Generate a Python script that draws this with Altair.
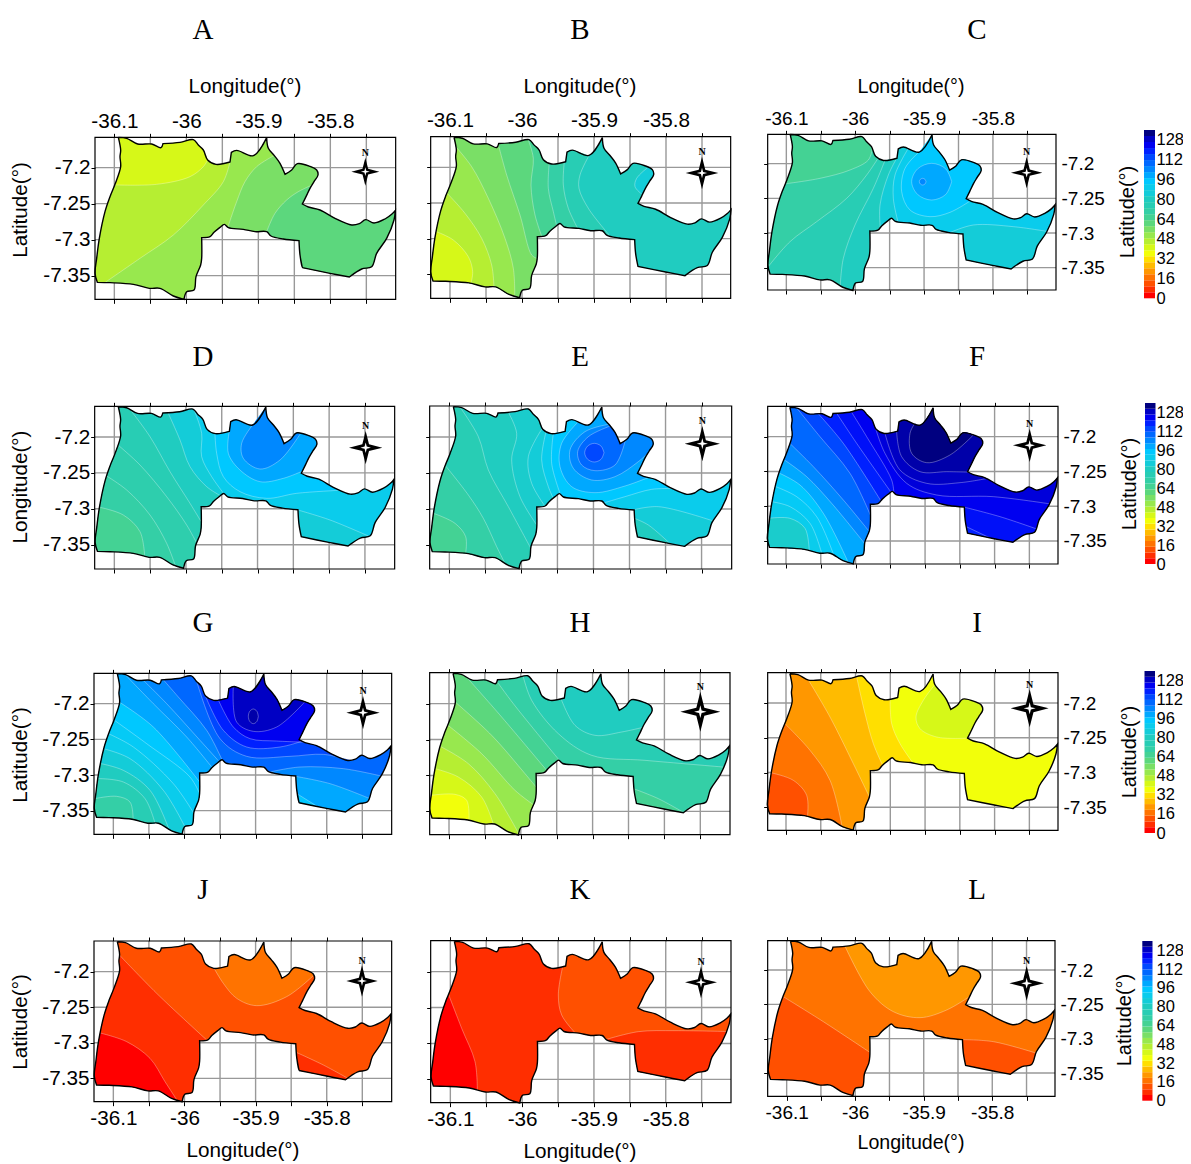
import altair as alt
import pandas as pd

SANS = "Liberation Sans"
SERIF = "Liberation Serif"

PALETTE = ["#FF0000","#FF2E00","#FF5000","#FF7300","#FF9700","#FFBB00","#FFDF00","#F2FF0A",
           "#D6F818","#B6EE32","#98E84E","#7ADF66","#5CD77D","#44D294","#34CFA6","#28CDB4",
           "#20CCC0","#14CCD8","#0ACCEC","#00C8FF","#00A8FF","#0088FF","#0068FF","#0048FF",
           "#0020FF","#0000F0","#0000C4","#000080"]
BAR_TOP = 136
BAR_LABELS = [0,16,32,48,64,80,96,112,128]
LON_TICKS = [-36.1,-36.05,-36.0,-35.95,-35.9,-35.85,-35.8,-35.75]
LAT_TICKS = [-7.2,-7.25,-7.3,-7.35]

def colour(v):
    lo = int(v); hi = min(lo+1, len(PALETTE)-1); t = v-lo
    a = [int(PALETTE[lo][k:k+2],16) for k in (1,3,5)]
    b = [int(PALETTE[hi][k:k+2],16) for k in (1,3,5)]
    return "#%02X%02X%02X" % tuple(round(p+(q-p)*t) for p,q in zip(a,b))

# boundary, read clockwise, in units of 1/2160 degree from the reference grid of panel A
# (sharp corners are listed twice so the drawn curve stays tight there)
OUTLINE = [(85,37),(85,37),(110,40),(143,57),(185,57),(213,68),(219,56),(219,56),(270,52),(310,44),(325,60),(340,75),
 (353,105),(378,118),(420,111),(420,111),(424,82),(424,82),(440,76),(490,92),(530,38),(530,38),(535,70),(553,92),(570,115),
 (585,148),(585,148),(605,135),(622,116),(660,124),(680,135),(684,150),(672,170),(660,190),(648,215),(637,237),(637,237),
 (655,246),(690,255),(735,280),(785,300),(808,296),(827,284),(852,294),(885,282),(905,268),(916,256),(916,256),
 (912,285),(890,340),(860,385),(845,425),(815,432),(778,456),(778,456),(720,445),(637,428),(637,428),(630,390),(627,347),(627,347),
 (580,342),(543,333),(530,320),(495,320),(460,313),(415,308),(403,298),(390,307),(372,322),(360,335),
 (335,338),(335,338),(335,400),(332,420),(318,455),(312,495),(290,500),(282,523),(282,523),(250,513),(210,490),(178,490),
 (130,478),(60,473),(22,472),(22,472),(15,445),(20,400),(28,340),(45,260),(60,215),(75,178),(92,125),(90,95),(92,75)]

def ell(cx,cy,rx,ry):
    return [(cx+rx,cy),(cx+.7*rx,cy+.7*ry),(cx,cy+ry),(cx-.7*rx,cy+.7*ry),(cx-rx,cy),
            (cx-.7*rx,cy-.7*ry),(cx,cy-ry),(cx+.7*rx,cy-.7*ry),(cx+rx,cy)]

PANELS = [
 dict(name="A",crop=(90,125),grid=(73,128,108,108),frame=(15,917,37,523),base=9,compass=(826,140,42),
  bands=[(8,[(353,105),(340,125),(300,155),(200,178),(75,180)]),
         (10,[(45,472),(150,400),(250,330),(340,240),(400,170),(422,111)]),
         (11,[(415,305),(440,230),(465,170),(500,125),(552,92)]),
         (12,[(530,320),(555,265),(590,225),(625,200),(665,180)])]),
 dict(name="B",crop=(425,125),grid=(75,127,108,107),frame=(17,917,35,520),base=16,compass=(831,144,49),
  bands=[(15,[(492,90),(465,150),(462,190),(490,250),(555,330)]),
         (14,[(418,112),(415,180),(430,250),(458,310)]),
         (13,[(372,115),(370,190),(385,260),(392,298)]),
         (12,[(310,45),(325,100),(318,180),(330,270),(350,332)]),
         (11,[(220,58),(245,150),(285,270),(320,390),(333,400)]),
         (10,[(92,65),(140,125),(190,220),(240,340),(265,430),(272,505)]),
         (9,[(68,205),(120,265),(170,340),(200,420),(207,487)]),
         (8,[(35,320),(85,345),(130,395),(143,440),(138,475)]),
         (17,[(650,208),(630,185),(635,160),(670,125)])]),
 dict(name="C",crop=(760,125),grid=(79,116,103.3,104),frame=(23,888,28,495),base=15,compass=(800,143,47),
  bands=[(14,[(350,108),(320,150),(260,220),(170,290),(90,350),(25,425)]),
         (13,[(328,75),(325,105),(270,135),(180,160),(80,178)]),
         (16,[(242,480),(250,400),(285,300),(340,190),(375,105)]),
         (17,[(358,305),(360,240),(385,150),(410,100)]),
         (18,[(415,280),(400,220),(405,150),(440,85)]),
         (19,[(630,230),(570,262),(510,275),(450,255),(425,200),(435,130),(490,85)]),
         (17,[(570,322),(640,300),(760,305),(858,318)]),
         (20,ell(515,170,60,55)),(21,ell(488,170,10,10))]),
 dict(name="D",crop=(90,400),grid=(73,111,107.4,107.7),frame=(14,914,19,507),base=18,compass=(827,143,50),
  bands=[(17,[(310,35),(335,100),(335,170),(365,230),(395,270)]),
         (16,[(235,50),(270,120),(300,200),(350,260),(390,285)]),
         (15,[(120,30),(180,110),(240,215),(300,310),(330,365)]),
         (14.5,[(85,135),(150,195),(230,290),(290,375),(310,425)]),
         (14,[(50,228),(110,270),(180,345),(230,430),(255,500)]),
         (13,[(30,322),(100,345),(150,395),(165,465)]),
         (19,[(750,275),(620,280),(530,295),(450,275),(400,230),(380,160),(375,100)]),
         (20,[(640,215),(580,235),(510,245),(450,210),(415,160),(418,95)]),
         (21,[(630,105),(570,180),(510,207),(460,175),(455,130),(490,72)]),
         (17,[(625,330),(720,360),(835,405)])]),
 dict(name="E",crop=(425,400),grid=(73,111,108.1,108),frame=(14,920,18,507),base=18,compass=(832,131,53),
  bands=[(17,[(360,100),(350,180),(370,260),(385,295)]),
         (16.5,[(340,90),(310,170),(320,250),(360,320)]),
         (16,[(250,40),(275,100),(260,180),(285,290),(330,375)]),
         (15,[(105,30),(160,110),(190,210),(250,320),(320,445)]),
         (14,[(70,200),(130,285),(175,355),(215,440),(240,490)]),
         (13,[(25,340),(90,370),(122,410),(122,460)]),
         (19,[(405,285),(380,190),(385,100)]),
         (18,[(540,305),(600,290),(680,268),(745,260)]),
         (17,[(625,322),(700,320),(860,360)]),
         (16,[(635,355),(670,375),(735,430)]),
         (20,[(670,232),(600,258),(510,278),(440,260),(405,200),(410,130),(460,65)]),
         (21,[(670,160),(640,185),(570,230),(500,240),(445,205),(435,150),(480,95),(555,70)]),
         (22,[(610,135),(570,195),(510,212),(470,195),(458,155),(490,110),(560,75)]),
         (23,ell(508,158,29,28))]),
 dict(name="F",crop=(760,400),grid=(78,110,104.3,104.3),frame=(23,894,19,492),base=25,compass=(809,136,50),
  bands=[(24.5,[(275,40),(320,110),(395,240),(400,280)]),
         (24,[(230,40),(290,130),(385,265)]),
         (23,[(175,40),(250,130),(360,300)]),
         (22,[(110,30),(180,110),(270,220),(330,345)]),
         (21,[(90,130),(160,200),(250,300),(330,395)]),
         (20,[(75,180),(140,230),(215,310),(310,430)]),
         (19,[(60,220),(120,255),(190,340),(265,485)]),
         (18.5,[(48,260),(110,290),(170,350),(225,460)]),
         (18,[(35,305),(90,320),(150,370),(185,460)]),
         (16.5,[(32,355),(90,355),(135,385),(148,450)]),
         (25.5,[(860,308),(700,290),(530,285),(440,250),(375,160),(340,85)]),
         (26,[(680,235),(600,248),(500,250),(420,210),(375,100)]),
         (26.4,[(625,215),(560,215),(480,215),(425,170),(410,95)]),
         (27,[(640,105),(570,165),(500,188),(455,160),(450,100),(465,68)]),
         (24.5,[(615,320),(720,350),(825,385)]),
         (24,[(630,378),(690,408)])]),
 dict(name="G",crop=(90,667),grid=(70,110,106.7,107),frame=(12,905,19,502),base=22,compass=(819,137,50),
  bands=[(21,[(220,40),(265,90),(350,190),(400,270)]),
         (20.5,[(160,40),(230,110),(330,220),(385,280)]),
         (20,[(105,25),(190,110),(290,210),(365,300)]),
         (19,[(100,105),(190,180),(330,345)]),
         (18.5,[(75,160),(170,230),(300,330),(330,380)]),
         (18,[(55,200),(130,240),(250,350),(320,440)]),
         (17,[(40,245),(120,275),(220,370),(280,475)]),
         (16,[(33,290),(100,310),(180,370),(235,490)]),
         (15,[(25,335),(100,345),(165,395),(195,465)]),
         (14,[(18,395),(80,388),(120,405),(130,455)]),
         (23,[(780,280),(700,262),(600,268),(470,268),(390,215),(320,45)]),
         (24,[(630,235),(570,240),(470,240),(400,190),(345,90)]),
         (25,[(645,220),(560,222),(480,215),(430,180),(385,100)]),
         (26,[(640,125),(560,180),(490,193),(440,165),(430,60)]),
         (26.4,ell(490,148,15,22)),
         (21,[(540,318),(630,300),(760,305),(870,325)]),
         (20,[(620,328),(720,350),(835,393)]),
         (19,[(628,380),(680,430)])]),
 dict(name="H",crop=(425,667),grid=(72,110,107.7,107.7),frame=(14,915,17,503),base=14,compass=(826,134,60),
  bands=[(13,[(220,45),(265,110),(410,280)]),
         (12,[(125,30),(230,150),(365,310)]),
         (11,[(95,105),(200,205),(300,320),(333,360)]),
         (10,[(70,175),(170,260),(270,370),(330,415)]),
         (9,[(52,240),(130,290),(210,380),(280,500)]),
         (8,[(30,305),(100,330),(170,390),(205,465)]),
         (7,[(20,385),(90,382),(125,400),(132,460)]),
         (15,[(890,298),(660,280),(500,265),(400,200),(320,100),(295,30)]),
         (16,[(650,180),(590,195),(510,205),(450,175),(408,95)]),
         (13,[(635,365),(700,395),(775,435)])]),
 dict(name="I",crop=(760,667),grid=(78,108,104.3,104.3),frame=(23,894,17,490),base=7,compass=(809,124,57),
  bands=[(6,[(390,92),(395,170),(420,230),(460,285)]),
         (5,[(290,30),(315,140),(340,230),(368,295)]),
         (4,[(145,40),(210,150),(280,290),(330,390)]),
         (3,[(75,170),(150,250),(210,340),(245,480)]),
         (2,[(37,318),(100,340),(140,385),(142,450)]),
         (8,[(620,220),(530,210),(480,185),(468,150),(490,100),(522,55)])]),
 dict(name="J",crop=(90,935),grid=(70,110,106.7,106.7),frame=(12,905,18,500),base=2,compass=(816,138,47),
  bands=[(3,[(668,122),(590,185),(500,212),(440,190),(400,145),(372,98)]),
         (1,[(85,60),(200,175),(350,315)]),
         (0,[(35,295),(110,320),(180,370),(225,440),(260,498)]),
         (1,[(622,352),(700,390),(770,425)])]),
 dict(name="K",crop=(425,935),grid=(76,110,107.7,107.7),frame=(17,918,17,503),base=1,compass=(828,142,48),
  bands=[(2,[(450,293),(410,240),(400,180),(413,95)]),
         (1,[(545,312),(640,290),(750,287),(905,290)]),
         (0,[(70,178),(110,280),(150,380),(157,465)])]),
 dict(name="L",crop=(760,935),grid=(80,105,102.8,103),frame=(23,885,17,484),base=3,compass=(800,145,52),
  bands=[(4,[(630,185),(560,225),(480,248),(400,230),(330,170),(255,35)]),
         (2,[(70,185),(190,260),(325,352)]),
         (2,[(607,310),(700,320),(822,352)])]),
]

COL_X = [94,429,767,1087]
ROW_Y = [134,406,672,940]
VIEW_W = [315,318,300,60]
VIEW_H = [252,246,248,170]
SPACING = 20
CURVE = "catmull-rom"
TICK_FONT = [20.7,20.7,19]
CAP_FONT = [20.7,20.7,19.6]
BAR_LABEL_X = 1156

LETTER_POS = {"A":(203,30),"B":(580,30),"C":(977,30),"D":(203,357),"E":(580,357),"F":(977,357),
              "G":(203,623),"H":(580,623),"I":(977,623),"J":(203,890),"K":(580,890),"L":(977,890)}
CAPTIONS = {
 "A":[("Longitude(°)",245,87,0),("Latitude(°)",21,210,270)],
 "B":[("Longitude(°)",580,87,0)],
 "C":[("Longitude(°)",911,87,0)],
 "D":[("Longitude(°)",21,487,270)],
 "G":[("Latitude(°)",21,755,270)],
 "J":[("Latitude(°)",21,1022,270),("Longitude(°)",243,1151,0)],
 "K":[("Longitude(°)",580,1152,0)],
 "L":[("Longitude(°)",911,1143,0)],
}
BARS = [(1144,1155,130,298.3,1128,212),(1145,1155.5,403,564,1130,484),
        (1144.5,1155,671,833,1130,752),(1142.3,1152.5,941,1100.7,1125,1020)]

A = PANELS[0]
def to_ll(p, pts):
    gx,gy,sx,sy = p["grid"]
    return [(-36.1+(x-gx)/sx*0.05, -7.2-(y-gy)/sy*0.05) for x,y in pts]
OL = to_ll(A, OUTLINE)

def nearest(pt):
    best = None
    for i in range(len(OL)):
        a = OL[i]; b = OL[(i+1)%len(OL)]
        dx,dy = b[0]-a[0], b[1]-a[1]
        n = dx*dx+dy*dy
        if n == 0:
            continue
        t = max(0,min(1,((pt[0]-a[0])*dx+(pt[1]-a[1])*dy)/n))
        q = (a[0]+t*dx, a[1]+t*dy)
        d = (q[0]-pt[0])**2+(q[1]-pt[1])**2
        if best is None or d < best[0]:
            best = (d,i,t,q)
    return best

def region(line):
    if line[0] == line[-1]:
        return line, line
    _,si,st,P = nearest(line[0])
    _,ei,et,Q = nearest(line[-1])
    contour = [P]+line[1:-1]+[Q]
    poly = [P]+list(contour)+[Q]
    if not (si == ei and et <= st):
        j = ei
        while True:
            j = (j+1)%len(OL)
            poly.append(OL[j])
            if j == si:
                break
    poly += [P]
    return poly, contour

def panel_chart(idx, p):
    row, col = idx//3, idx%3
    cx,cy = p["crop"]; fx0,fx1,fy0,fy1 = p["frame"]; gx,gy,sx,sy = p["grid"]
    left = cx+fx0/3; right = cx+fx1/3; top = cy+fy0/3; bottom = cy+fy1/3
    ox,oy = COL_X[col],ROW_Y[row]
    W,H = VIEW_W[col],VIEW_H[row]
    lon0 = -36.1+(fx0-gx)/sx*.05; lon1 = -36.1+(fx1-gx)/sx*.05
    lat1 = -7.2-(fy0-gy)/sy*.05;  lat0 = -7.2-(fy1-gy)/sy*.05
    xs = alt.Scale(domain=[lon0,lon1],range=[left-ox,right-ox],nice=False,zero=False)
    ys = alt.Scale(domain=[lat0,lat1],range=[bottom-oy,top-oy],nice=False,zero=False)
    X = lambda f,**k: alt.X(f,type="quantitative",scale=xs,**k)
    Y = lambda f,**k: alt.Y(f,type="quantitative",scale=ys,**k)

    rows,lines = [],[]
    for k,q in enumerate(OL+OL[:1]):
        rows.append(dict(lon=q[0],lat=q[1],band=0,i=k,c=colour(p["base"])))
    for b,(lvl,pts) in enumerate(p["bands"],1):
        poly,contour = region(to_ll(p,pts))
        for k,q in enumerate(poly):
            rows.append(dict(lon=q[0],lat=q[1],band=b,i=k,c=colour(lvl)))
        for k,q in enumerate(contour):
            lines.append(dict(lon=q[0],lat=q[1],band=b,i=k))

    layers = []
    lab_x = "(abs(datum.value*10-round(datum.value*10))<0.01) ? ''+round(datum.value*10)/10 : ''"
    common = dict(domain=False,grid=False,title=None,tickColor="black",tickWidth=1,labelFont=SANS,
                  labelFontSize=TICK_FONT[col],labelColor="black",labelOverlap=False,labelBound=False,labelFlush=False)
    ax_top = alt.Axis(orient="top",values=LON_TICKS,labels=(row==0),labelExpr=lab_x,tickSize=4,labelPadding=2,
                      offset=-(top-oy),**common)
    ax_bot = alt.Axis(orient="bottom",values=LON_TICKS,labels=(row==3),labelExpr=lab_x,tickSize=4,labelPadding=3,
                      offset=-(H-(bottom-oy)),**common)
    if col == 2:
        ax_y = alt.Axis(orient="right",values=LAT_TICKS,labels=True,labelExpr="''+datum.value",tickSize=0,labelPadding=5,
                        offset=-(W-(right-ox)),**common)
        ax_l = alt.Axis(orient="left",values=LAT_TICKS,labels=False,tickSize=4,offset=-(left-ox),**common)
    else:
        ax_y = alt.Axis(orient="left",values=LAT_TICKS,labels=(col==0),labelExpr="''+datum.value",tickSize=4,labelPadding=1,
                        offset=-(left-ox),**common)
        ax_l = None
    seed = alt.Data(values=[dict(lon=lon0,lat=lat0)])
    layers.append(alt.Chart(seed).mark_point(opacity=0,size=1).encode(x=X("lon",axis=ax_top),y=Y("lat",axis=ax_y)))
    layers.append(alt.Chart(seed).mark_point(opacity=0,size=1).encode(x=X("lon",axis=ax_bot),y=Y("lat",axis=ax_l)))
    vg = pd.DataFrame(dict(lon=LON_TICKS,a=lat0,b=lat1))
    hg = pd.DataFrame(dict(lat=LAT_TICKS,a=lon0,b=lon1))
    layers.append(alt.Chart(vg).mark_rule(color="#999999",strokeWidth=1.4).encode(
        x=X("lon",axis=None),y=Y("a",axis=None),y2="b"))
    layers.append(alt.Chart(hg).mark_rule(color="#999999",strokeWidth=1.4).encode(
        y=Y("lat",axis=None),x=X("a",axis=None),x2="b"))
    layers.append(alt.Chart(pd.DataFrame(rows)).mark_line(strokeWidth=0,interpolate=CURVE).encode(
        x=X("lon",axis=None),y=Y("lat",axis=None),order="i:Q",detail="band:N",
        fill=alt.Fill("c:N",scale=None,legend=None)))
    if lines:
        layers.append(alt.Chart(pd.DataFrame(lines)).mark_line(color="white",strokeWidth=0.7,opacity=0.45,interpolate=CURVE).encode(
            x=X("lon",axis=None),y=Y("lat",axis=None),order="i:Q",detail="band:N"))
    ring = pd.DataFrame([dict(lon=q[0],lat=q[1],i=k) for k,q in enumerate(OL+OL[:1])])
    layers.append(alt.Chart(ring).mark_line(color="black",strokeWidth=1.4,interpolate=CURVE).encode(
        x=X("lon",axis=None),y=Y("lat",axis=None),order="i:Q"))
    layers.append(alt.Chart(alt.Data(values=[dict(a=lon0,b=lon1,c=lat0,d=lat1)])).mark_rect(
        filled=False,stroke="black",strokeWidth=1.2).encode(
        x=X("a",axis=None),x2="b",y=Y("c",axis=None),y2="d"))
    ax,ay,ar = p["compass"]
    (clon,clat),(nlon,nlat) = to_ll(p,[(ax,ay),(ax,ay-ar-14)])
    size = (2*ar/3)**2
    STAR = "M0,-1L0.2,-0.2L1,0L0.2,0.2L0,1L-0.2,0.2L-1,0L-0.2,-0.2Z"
    pt = alt.Data(values=[dict(lon=clon,lat=clat)])
    layers.append(alt.Chart(pt).mark_point(shape=STAR,filled=True,color="black",size=size,opacity=1).encode(
        x=X("lon",axis=None),y=Y("lat",axis=None)))
    layers.append(alt.Chart(pt).mark_point(shape=STAR,filled=True,color="white",size=size*0.1,opacity=1).encode(
        x=X("lon",axis=None),y=Y("lat",axis=None)))
    layers.append(alt.Chart(alt.Data(values=[dict(lon=nlon,lat=nlat)])).mark_text(
        text="N",font=SERIF,fontWeight="bold",fontSize=10,color="black").encode(
        x=X("lon",axis=None),y=Y("lat",axis=None)))
    one = alt.Data(values=[{}])
    lx,ly = LETTER_POS[p["name"]]
    layers.append(alt.Chart(one).mark_text(text=p["name"],font=SERIF,fontSize=29,color="black").encode(
        x=alt.value(lx-ox),y=alt.value(ly-oy)))
    for t,tx,ty,ang in CAPTIONS.get(p["name"],[]):
        size_cap = 20.7 if ang else CAP_FONT[col]
        layers.append(alt.Chart(one).mark_text(text=t,font=SANS,fontSize=size_cap,color="black",angle=ang).encode(
            x=alt.value(tx-ox),y=alt.value(ty-oy)))
    return alt.layer(*layers).resolve_axis(x="independent",y="independent").properties(width=W,height=H)

def bar_chart(row):
    x0,x1,y0,y1,tx,ty = BARS[row]
    ox,oy = COL_X[3],ROW_Y[row]
    W,H = VIEW_W[3],VIEW_H[row]
    n = len(PALETTE)
    step = BAR_TOP/n
    df = pd.DataFrame(dict(a=[k*step for k in range(n)],b=[(k+1)*step for k in range(n)],c=PALETTE))
    ys = alt.Scale(domain=[0,BAR_TOP],range=[y1-oy,y0-oy],nice=False,zero=False)
    axis = alt.Axis(orient="right",values=BAR_LABELS,title=None,domain=False,grid=False,tickSize=0,labelPadding=0,
                    offset=-(W-(BAR_LABEL_X-ox)),labelFont=SANS,labelFontSize=16.5,labelColor="black",
                    labelOverlap=False,labelBound=False,labelFlush=False)
    bars = alt.Chart(df).mark_rect().encode(
        y=alt.Y("a",type="quantitative",scale=ys,axis=axis),y2="b",
        x=alt.value(x0-ox),x2=alt.value(x1-ox),color=alt.Color("c:N",scale=None,legend=None))
    title = alt.Chart(alt.Data(values=[{}])).mark_text(text="Latitude(°)",font=SANS,fontSize=20,angle=270,color="black").encode(
        x=alt.value(tx-ox),y=alt.value(ty-oy))
    return alt.layer(bars,title).properties(width=W,height=H)

cells = []
for i,p in enumerate(PANELS):
    cells.append(panel_chart(i,p))
    if i%3 == 2:
        cells.append(bar_chart(i//3))

chart = alt.concat(*cells,columns=4,spacing=SPACING,bounds="flush").properties(
    autosize=alt.AutoSizeParams(type="none"),
    padding=dict(left=86,top=126,right=1089,bottom=1032)).configure_view(stroke=None)
chart.save("out.html", embed_options={"renderer": "svg", "actions": False})
